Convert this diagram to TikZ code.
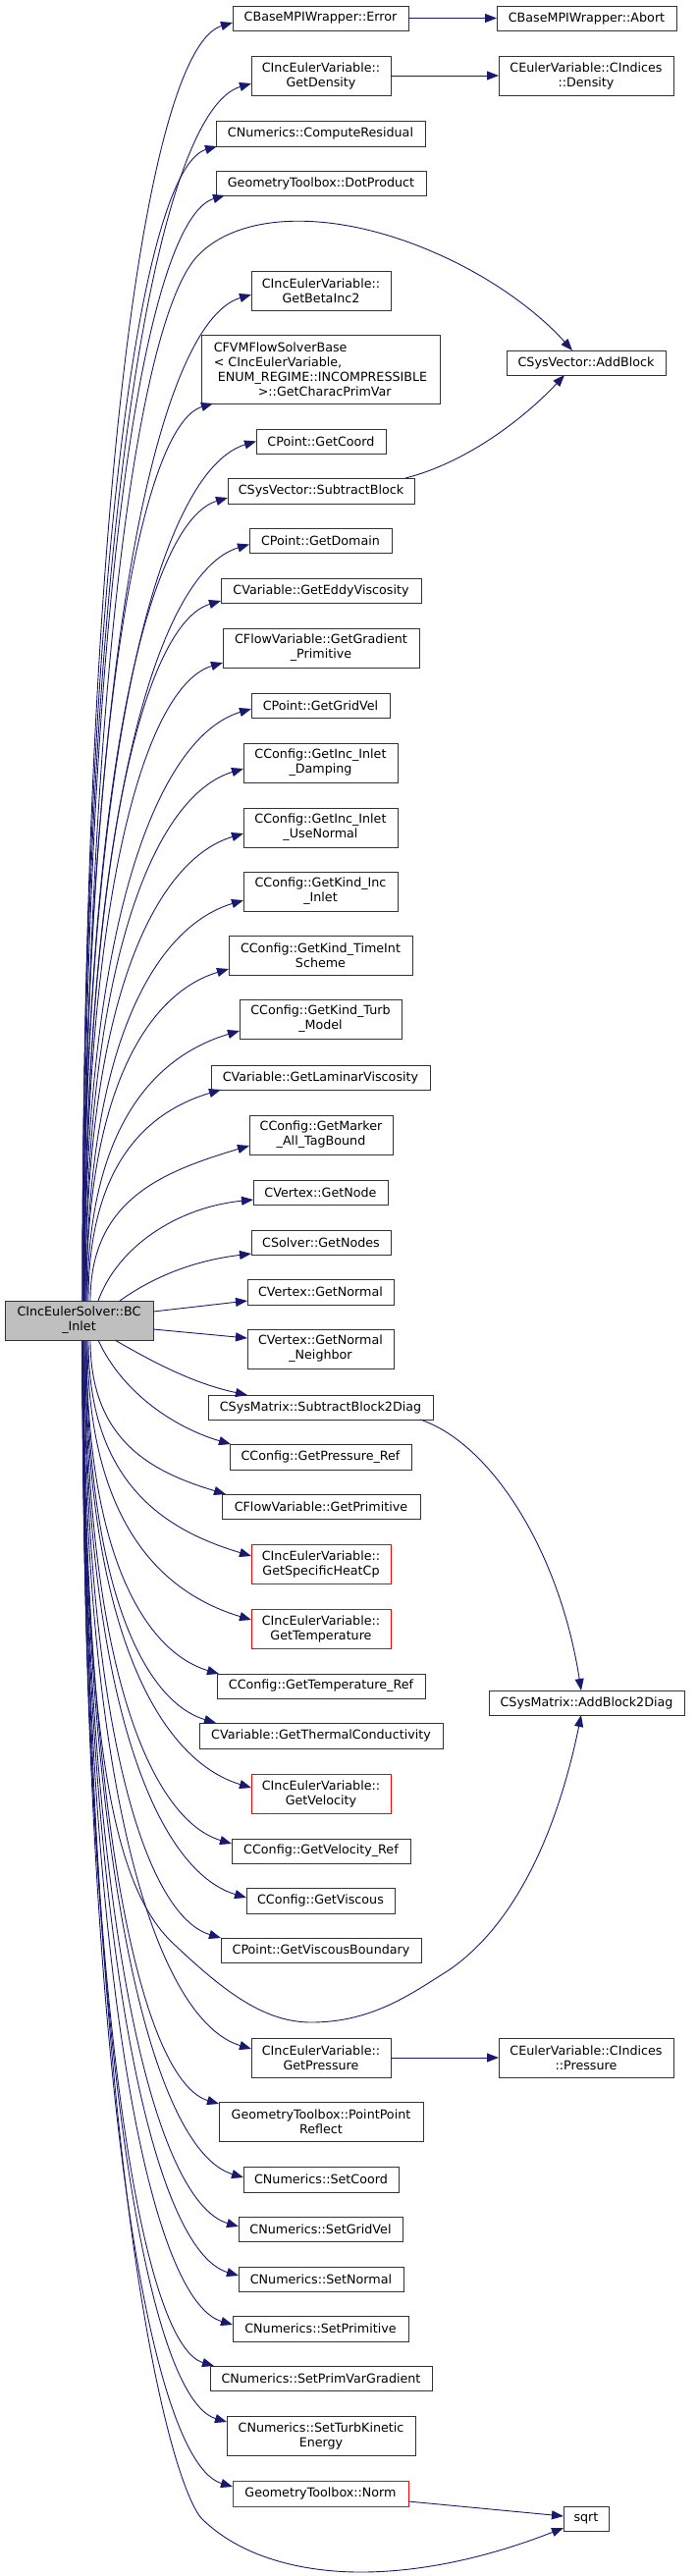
\documentclass[tikz,border=0pt]{standalone}
\usepackage{fontspec}
\setmainfont{DejaVu Sans}
\usetikzlibrary{arrows.meta,calc}
\definecolor{edgec}{HTML}{191970}
\definecolor{bordc}{HTML}{333333}
\newcommand\bx[7][box]{\node[#1, minimum width={#5-#3}, minimum height={#6-#4}] (#2) at ({(#3+#5)/2},{(#4+#6)/2}) {#7};}
\newcommand\eup[2]{\draw[edge] let \p0=(main.north), \p1=#2 in (#1pt,\y0) .. controls (#1pt,{\y1+0.35*(\y0-\y1)}) and ({#1pt+0.45*(\x1-#1pt)},{\y1-0.165*(\x1-#1pt)}) .. (\p1);}
\newcommand\edn[2]{\draw[edge] let \p0=(main.south), \p1=#2 in (#1pt,\y0) .. controls (#1pt,{\y1+0.35*(\y0-\y1)}) and ({#1pt+0.45*(\x1-#1pt)},{\y1+0.165*(\x1-#1pt)}) .. (\p1);}
\begin{document}
\begin{tikzpicture}[x=1pt,y=-1pt,
  box/.style={draw=bordc, line width=1pt, fill=white, inner sep=0pt, outer sep=0pt, align=center, font=\fontsize{12.7}{15}\selectfont},
  redbox/.style={box, draw=red},
  mainbox/.style={box, fill=gray!50},
  edge/.style={draw=edgec, line width=0.9pt, -{Triangle[length=12pt,width=9pt]}}]
\fill[white] (0,0) rectangle (711,2624);
\useasboundingbox (0,0) rectangle (711,2624);
% nodes
\bx[mainbox]{main}{5}{1325}{156}{1365}{CIncEulerSolver::BC\\\_Inlet}
\bx{err}{237}{6}{416}{31}{CBaseMPIWrapper::Error}
\bx{abort}{506}{6}{689}{31}{CBaseMPIWrapper::Abort}
\bx{dens}{256}{57}{398}{97}{CIncEulerVariable::\\GetDensity}
\bx{cdens}{508}{57}{686}{97}{CEulerVariable::CIndices\\::Density}
\bx{compres}{220}{123}{433}{149}{CNumerics::ComputeResidual}
\bx{dot}{220}{174}{434}{199}{GeometryToolbox::DotProduct}
\bx{beta}{256}{276}{398}{316}{CIncEulerVariable::\\GetBetaInc2}
\node[box, align=left, minimum width=243pt, minimum height=70pt] (fvm) at (326.5,376) {CFVMFlowSolverBase\\< CIncEulerVariable,\\\hspace*{4pt}ENUM\_REGIME::INCOMPRESSIBLE\\\hspace*{45pt}>::GetCharacPrimVar};
\bx{addblock}{516}{357}{678}{382}{CSysVector::AddBlock}
\bx{coord}{261}{437}{393}{462}{CPoint::GetCoord}
\bx{subblock}{232}{487}{422}{513}{CSysVector::SubtractBlock}
\bx{domain}{254}{538}{399}{563}{CPoint::GetDomain}
\bx{eddy}{225}{589}{429}{614}{CVariable::GetEddyViscosity}
\bx{gradprim}{227}{640}{427}{680}{CFlowVariable::GetGradient\\\_Primitive}
\bx{gridvel}{256}{706}{397}{731}{CPoint::GetGridVel}
\bx{damping}{248}{757}{405}{797}{CConfig::GetInc\_Inlet\\\_Damping}
\bx{usenormal}{248}{823}{405}{863}{CConfig::GetInc\_Inlet\\\_UseNormal}
\bx{kindinc}{248}{888}{405}{928}{CConfig::GetKind\_Inc\\\_Inlet}
\bx{timeint}{233}{953}{420}{993}{CConfig::GetKind\_TimeInt\\Scheme}
\bx{turb}{244}{1018}{409}{1058}{CConfig::GetKind\_Turb\\\_Model}
\bx{lamvisc}{215}{1085}{438}{1110}{CVariable::GetLaminarViscosity}
\bx{tag}{254}{1136}{400}{1176}{CConfig::GetMarker\\\_All\_TagBound}
\bx{getnode}{258}{1202}{395}{1227}{CVertex::GetNode}
\bx{getnodes}{256}{1253}{398}{1278}{CSolver::GetNodes}
\bx{normal}{252}{1303}{401}{1329}{CVertex::GetNormal}
\bx{neighbor}{252}{1354}{401}{1394}{CVertex::GetNormal\\\_Neighbor}
\bx{subdiag}{212}{1421}{441}{1446}{CSysMatrix::SubtractBlock2Diag}
\bx{pref}{234}{1471}{419}{1497}{CConfig::GetPressure\_Ref}
\bx{prim}{226}{1522}{428}{1547}{CFlowVariable::GetPrimitive}
\bx[redbox]{cp}{256}{1573}{398}{1613}{CIncEulerVariable::\\GetSpecificHeatCp}
\bx[redbox]{temp}{256}{1639}{398}{1679}{CIncEulerVariable::\\GetTemperature}
\bx{tref}{221}{1705}{433}{1730}{CConfig::GetTemperature\_Ref}
\bx{adddiag}{498}{1722}{697}{1747}{CSysMatrix::AddBlock2Diag}
\bx{thermal}{203}{1755}{451}{1781}{CVariable::GetThermalConductivity}
\bx[redbox]{vel}{256}{1807}{398}{1847}{CIncEulerVariable::\\GetVelocity}
\bx{vref}{236}{1873}{418}{1898}{CConfig::GetVelocity\_Ref}
\bx{viscous}{251}{1923}{402}{1949}{CConfig::GetViscous}
\bx{viscb}{225}{1974}{429}{1999}{CPoint::GetViscousBoundary}
\bx{press}{256}{2076}{398}{2116}{CIncEulerVariable::\\GetPressure}
\bx{cpress}{508}{2076}{686}{2116}{CEulerVariable::CIndices\\::Pressure}
\bx{ppr}{223}{2141}{431}{2181}{GeometryToolbox::PointPoint\\Reflect}
\bx{setcoord}{248}{2207}{406}{2233}{CNumerics::SetCoord}
\bx{setgv}{243}{2258}{410}{2283}{CNumerics::SetGridVel}
\bx{setnormal}{243}{2309}{411}{2334}{CNumerics::SetNormal}
\bx{setprim}{237}{2359}{416}{2385}{CNumerics::SetPrimitive}
\bx{setpvg}{214}{2410}{440}{2435}{CNumerics::SetPrimVarGradient}
\bx{setturb}{231}{2461}{423}{2501}{CNumerics::SetTurbKinetic\\Energy}
\bx[redbox]{norm}{237}{2527}{416}{2553}{GeometryToolbox::Norm}
\bx{sqrt}{574}{2553}{620}{2578}{sqrt}
% edges upward
\eup{84}{([yshift=-4.5pt]err.west)}
\eup{84}{([yshift=-8pt]dens.west)}
\eup{84}{([xshift=1pt]compres.south west)}
\eup{85}{([xshift=9pt]dot.south west)}
\eup{85}{([yshift=-4pt]beta.west)}
\eup{85}{([xshift=12pt]fvm.south west)}
\eup{85}{(coord.west)}
\eup{85}{([yshift=-7pt]subblock.west)}
\eup{86}{([yshift=-4pt]domain.west)}
\eup{86}{([yshift=2pt]eddy.south west)}
\eup{86}{([yshift=5pt]gradprim.south west)}
\eup{86}{([yshift=-3.5pt]gridvel.west)}
\eup{87}{([yshift=-6pt]damping.west)}
\eup{87}{([yshift=-6pt]usenormal.west)}
\eup{88}{([yshift=-9pt]kindinc.west)}
\eup{88}{([yshift=6pt]timeint.south west)}
\eup{89}{([yshift=8pt]turb.south west)}
\eup{90}{([xshift=10pt]lamvisc.south west)}
\eup{92}{([yshift=-11pt]tag.west)}
\draw[edge] ([xshift=95pt]main.north west) .. controls (120,1270) and (180,1230) .. ([yshift=-7.5pt]getnode.west);
\draw[edge] ([xshift=117pt]main.north west) .. controls (150,1305) and (190,1285) .. ([yshift=1pt]getnodes.south west);
\draw[edge] ([yshift=9pt]main.east) -- ([yshift=4pt]normal.south west);
\draw[edge] ([yshift=-9pt]main.east) -- ([yshift=-9pt]neighbor.north west);
% edges downward
\draw[edge] ([xshift=112pt]main.south west) .. controls (160,1390) and (200,1410) .. ([xshift=40pt]subdiag.north west);
\draw[edge] ([xshift=95pt]main.south west) .. controls (125,1420) and (180,1455) .. ([xshift=1pt]pref.north west);
\edn{92}{([xshift=4pt]prim.north west)}
\edn{90}{([yshift=8pt]cp.west)}
\edn{89}{([yshift=9pt]temp.west)}
\edn{88}{([xshift=2pt]tref.north west)}
\edn{88}{([xshift=17pt]thermal.north west)}
\edn{87}{([yshift=6pt]vel.west)}
\edn{87}{([yshift=-5pt]vref.north west)}
\edn{86}{([yshift=3pt]viscous.west)}
\edn{86}{(viscb.north west)}
\edn{85}{([yshift=9pt]press.west)}
\edn{85}{([yshift=-2pt]ppr.north west)}
\edn{84}{([yshift=2pt]setcoord.west)}
\edn{84}{([yshift=2.5pt]setgv.west)}
\edn{84}{([yshift=3.5pt]setnormal.west)}
\edn{84}{([yshift=4pt]setprim.west)}
\edn{84}{([xshift=4pt]setpvg.north west)}
\edn{84}{([yshift=-6pt]setturb.north west)}
\edn{84}{([yshift=7pt]norm.west)}
% long special edges
\draw[edge] ([xshift=80pt]main.north west) .. controls (88,700) and (140,330) .. (200,262) .. controls (240,218) and (330,212) .. (430,252) .. controls (500,280) and (550,320) .. ([xshift=-14pt]addblock.north);
\draw[edge] ([xshift=80pt]main.south west) .. controls (85,1800) and (120,1930) .. (180,1983) .. controls (230,2030) and (270,2060) .. (317,2060) .. controls (380,2060) and (420,2030) .. (457,2007) .. controls (540,1950) and (575,1830) .. ([xshift=-5.5pt]adddiag.south);
\draw[edge] ([xshift=79pt]main.south west) .. controls (90,2250) and (175,2530) .. (205,2565) .. controls (250,2610) and (320,2620) .. (367,2620) .. controls (440,2620) and (510,2600) .. ([yshift=-9.5pt]sqrt.west);
% secondary edges
\draw[edge] (err.east) -- (abort.west);
\draw[edge] (dens.east) -- (cdens.west);
\draw[edge] (press.east) -- (cpress.west);
\draw[edge] ([yshift=-8pt]norm.east) -- ([yshift=2.5pt]sqrt.west);
\draw[edge] ([xshift=-9pt]subblock.north east) .. controls (480,470) and (540,420) .. ([xshift=-22pt]addblock.south);
\draw[edge] ([xshift=-13pt]subdiag.south east) .. controls (500,1470) and (570,1580) .. ([xshift=-5.5pt]adddiag.north);
\end{tikzpicture}
\end{document}
